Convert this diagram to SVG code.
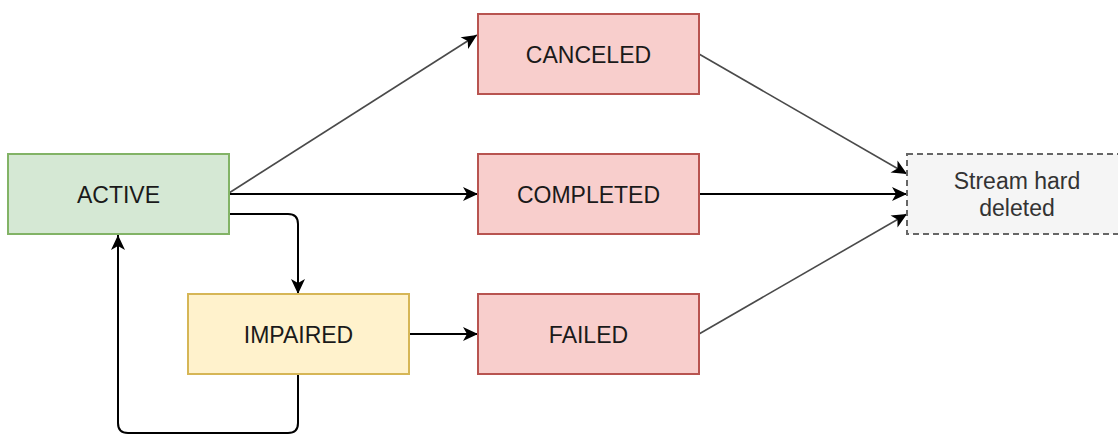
<svg xmlns="http://www.w3.org/2000/svg" width="1118" height="434" viewBox="0 0 1118 434">
  <style>
    .box { stroke-width: 2; }
    .green { fill: #d5e8d4; stroke: #82b366; }
    .yellow { fill: #fff2cc; stroke: #d6b656; }
    .red { fill: #f8cecc; stroke: #b85450; }
    .gray { fill: #f5f5f5; stroke: #666666; stroke-dasharray: 6 4; }
    .label { font-family: "Liberation Sans", Arial, Helvetica, sans-serif; font-size: 23px; fill: #1a1a1a; text-anchor: middle; }
    .glabel { fill: #333333; }
    .edge { fill: none; stroke: #000; stroke-width: 2; }
    .thin { fill: none; stroke: #4a4a4a; stroke-width: 1.6; }
  </style>
  <defs>
    <marker id="arrow" markerUnits="userSpaceOnUse" markerWidth="18" markerHeight="16" refX="15" refY="7" orient="auto" viewBox="0 0 18 16" overflow="visible">
      <path d="M0,0 L15,7 L0,14 L4,7 Z" fill="#000"/>
    </marker>
  </defs>

  <g id="connectors">
    <path class="thin" d="M229,193 L477,35" marker-end="url(#arrow)"/>
    <path class="edge" d="M229,194 L478,194" marker-end="url(#arrow)"/>
    <path class="edge" d="M229,214 L288,214 Q298,214 298,224 L298,294" marker-end="url(#arrow)"/>
    <path class="edge" d="M298,374 L298,423 Q298,433 288,433 L128,433 Q118,433 118,423 L118,235" marker-end="url(#arrow)"/>
    <path class="edge" d="M409,334 L478,334" marker-end="url(#arrow)"/>
    <path class="thin" d="M699,54 L907,174" marker-end="url(#arrow)"/>
    <path class="edge" d="M699,194 L907,194" marker-end="url(#arrow)"/>
    <path class="thin" d="M699,334 L907,214" marker-end="url(#arrow)"/>
  </g>

  <g id="active">
    <rect class="box green" x="8" y="154" width="221" height="80"/>
    <text class="label" x="118.5" y="202.5">ACTIVE</text>
  </g>
  <g id="impaired">
    <rect class="box yellow" x="188" y="294" width="221" height="80"/>
    <text class="label" x="298.5" y="342.5">IMPAIRED</text>
  </g>
  <g id="canceled">
    <rect class="box red" x="478" y="14" width="221" height="80"/>
    <text class="label" x="588.5" y="62.5">CANCELED</text>
  </g>
  <g id="completed">
    <rect class="box red" x="478" y="154" width="221" height="80"/>
    <text class="label" x="588.5" y="202.5">COMPLETED</text>
  </g>
  <g id="failed">
    <rect class="box red" x="478" y="294" width="221" height="80"/>
    <text class="label" x="588.5" y="342.5">FAILED</text>
  </g>
  <g id="stream-hard-deleted">
    <rect class="box gray" x="907" y="154" width="221" height="80"/>
    <text class="label glabel" x="1017" y="189">Stream hard</text>
    <text class="label glabel" x="1017" y="216">deleted</text>
  </g>
</svg>
